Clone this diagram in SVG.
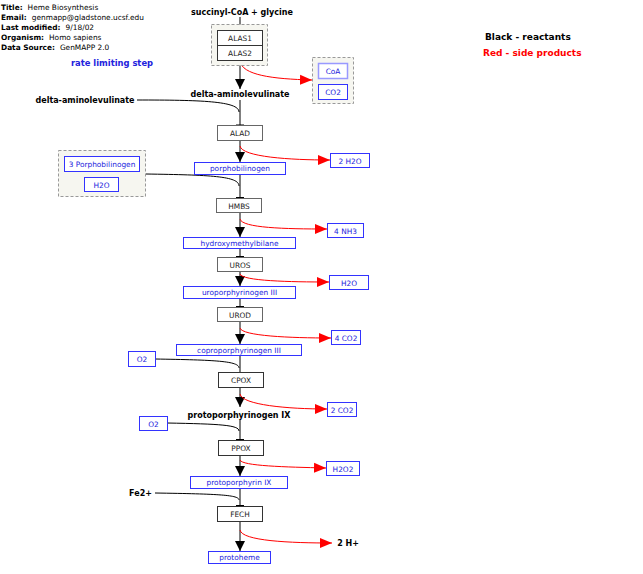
<svg xmlns="http://www.w3.org/2000/svg" width="643" height="574" viewBox="0 0 643 574">
<defs>
<marker id="ab" markerUnits="userSpaceOnUse" markerWidth="10" markerHeight="12" viewBox="0 0 10 12" refX="10" refY="6" orient="auto"><path d="M0,1 L10,6 L0,11 Z" fill="#000"/></marker>
<marker id="ar" markerUnits="userSpaceOnUse" markerWidth="12" markerHeight="12" viewBox="0 0 12 12" refX="12" refY="6" orient="auto"><path d="M0,1 L12,6 L0,11 Z" fill="#f00"/></marker>
<style>
text{font-family:"DejaVu Sans","Liberation Sans",sans-serif;}
.h{font-size:7.4px;fill:#000;}
.hb{font-weight:bold;}
.bl{font-size:8px;font-weight:bold;fill:#000;text-anchor:middle;}
.grp{fill:#f6f6f0;stroke:#999;stroke-dasharray:3,2;stroke-width:1;}
.enz{fill:#fff;stroke:#333;stroke-width:1;}
.enz2{fill:#fff;stroke:#666;stroke-width:1;}
.met{fill:#fff;stroke:#33f;stroke-width:1;}
.met2{fill:#fff;stroke:#99f;stroke-width:1.5;}
.et{font-size:7.4px;fill:#222;text-anchor:middle;}
.mt{font-size:7.4px;fill:#22d;text-anchor:middle;}
.k{fill:none;stroke:#000;stroke-width:1;}
.r{fill:none;stroke:#f00;stroke-width:1;}
</style>
</defs>

<g id="header">
<text class="h" x="1" y="10"><tspan class="hb">Title:</tspan><tspan dx="5">Heme Biosynthesis</tspan></text>
<text class="h" x="1" y="20"><tspan class="hb">Email:</tspan><tspan dx="5">genmapp@gladstone.ucsf.edu</tspan></text>
<text class="h" x="1" y="30"><tspan class="hb">Last modified:</tspan><tspan dx="5">9/18/02</tspan></text>
<text class="h" x="1" y="40"><tspan class="hb">Organism:</tspan><tspan dx="5">Homo sapiens</tspan></text>
<text class="h" x="1" y="50"><tspan class="hb">Data Source:</tspan><tspan dx="5">GenMAPP 2.0</tspan></text>
</g>
<g id="rate-limiting"><text x="112" y="66" style="font-size:8.4px;font-weight:bold;fill:#22d;text-anchor:middle">rate limiting step</text></g>
<g id="legend">
<text x="485" y="40" style="font-size:9px;font-weight:bold;fill:#000">Black - reactants</text>
<text x="483" y="56" style="font-size:9px;font-weight:bold;fill:#f00">Red - side products</text>
</g>

<g id="connectors">
<path class="k" d="M240,17 V31"/>
<path class="k" d="M240,60 V89" marker-end="url(#ab)"/>
<path class="r" d="M240,61 C242,75 272,79 312,80" marker-end="url(#ar)"/>
<path class="k" d="M240,100 V125 M236,125 H244"/>
<path class="k" d="M137,100 C200,100 239,101 239,112"/>
<path class="k" d="M240,140 V162" marker-end="url(#ab)"/>
<path class="r" d="M240,146 C242,157 290,160 330,160" marker-end="url(#ar)"/>
<path class="k" d="M240,174 V198 M236,197.5 H244"/>
<path class="k" d="M146,174 C210,175 239,176 239,186"/>
<path class="k" d="M240,213 V237" marker-end="url(#ab)"/>
<path class="r" d="M240,219 C242,228 285,229 327,229" marker-end="url(#ar)"/>
<path class="k" d="M240,248 V257 M236,256.5 H244"/>
<path class="k" d="M240,271 V286" marker-end="url(#ab)"/>
<path class="r" d="M240,274 C242,281 290,282 329,282" marker-end="url(#ar)"/>
<path class="k" d="M240,298 V307 M236,306.5 H244"/>
<path class="k" d="M240,322 V344" marker-end="url(#ab)"/>
<path class="r" d="M240,328 C242,336 290,338 331,338" marker-end="url(#ar)"/>
<path class="k" d="M240,356 V373 M236,372.5 H244"/>
<path class="k" d="M155,359 C215,360 239,361 239,368"/>
<path class="k" d="M240,387 V407" marker-end="url(#ab)"/>
<path class="r" d="M240,394 C242,405 288,409 327,409" marker-end="url(#ar)"/>
<path class="k" d="M240,420 V440 M236,439.5 H244"/>
<path class="k" d="M167,423 C220,424 239,425 239,431"/>
<path class="k" d="M240,455 V476" marker-end="url(#ab)"/>
<path class="r" d="M240,460 C242,466 285,467 326,468" marker-end="url(#ar)"/>
<path class="k" d="M240,488 V506 M236,505.5 H244"/>
<path class="k" d="M155,493 C220,494 239,495 239,500"/>
<path class="k" d="M240,522 V551" marker-end="url(#ab)"/>
<path class="r" d="M240,530 C242,541 290,543 332,543" marker-end="url(#ar)"/>
</g>

<g id="succinyl"><text class="bl" x="242" y="15">succinyl-CoA + glycine</text></g>
<g id="alas-group">
<rect class="grp" x="211.5" y="24.5" width="56" height="41"/>
<rect class="enz" x="217.5" y="30.5" width="45" height="15"/>
<text class="et" x="240" y="41">ALAS1</text>
<rect class="enz" x="217.5" y="45.5" width="45" height="15"/>
<text class="et" x="240" y="56">ALAS2</text>
</g>
<g id="coa-group">
<rect class="grp" x="312.5" y="57.5" width="41" height="46"/>
<rect class="met2" x="318.5" y="63.5" width="29" height="15"/>
<text class="mt" x="333" y="74">CoA</text>
<rect class="met" x="318.5" y="84.5" width="29" height="15"/>
<text class="mt" x="333" y="95">CO2</text>
</g>
<g id="ala"><text class="bl" x="240" y="97">delta-aminolevulinate</text></g>
<g id="ala-left"><text class="bl" x="85" y="103">delta-aminolevulinate</text></g>
<g id="alad"><rect class="enz2" x="217.5" y="125.5" width="45" height="15"/><text class="et" x="240" y="136">ALAD</text></g>
<g id="h2o-1"><rect class="met" x="330.5" y="153.5" width="39" height="14"/><text class="mt" x="350" y="163.5">2 H2O</text></g>
<g id="pbg"><rect class="met" x="194.5" y="162.5" width="91" height="12"/><text class="mt" x="240" y="171">porphobilinogen</text></g>
<g id="pbg-group">
<rect class="grp" x="58.5" y="150.5" width="87" height="46"/>
<rect class="met" x="64.5" y="156.5" width="75" height="15"/>
<text class="mt" x="102" y="167">3 Porphobilinogen</text>
<rect class="met" x="84.5" y="177.5" width="34" height="14"/>
<text class="mt" x="101.5" y="187.5">H2O</text>
</g>
<g id="hmbs"><rect class="enz2" x="216.5" y="198.5" width="45" height="14"/><text class="et" x="239" y="208.5">HMBS</text></g>
<g id="nh3"><rect class="met" x="327.5" y="223.5" width="36" height="14"/><text class="mt" x="345.5" y="233.5">4 NH3</text></g>
<g id="hmb"><rect class="met" x="183.5" y="237.5" width="112" height="11"/><text class="mt" x="239.5" y="245.5">hydroxymethylbilane</text></g>
<g id="uros"><rect class="enz2" x="217.5" y="257.5" width="45" height="14"/><text class="et" x="240" y="267.5">UROS</text></g>
<g id="h2o-2"><rect class="met" x="329.5" y="275.5" width="39" height="14"/><text class="mt" x="349" y="285.5">H2O</text></g>
<g id="uro3"><rect class="met" x="183.5" y="286.5" width="112" height="12"/><text class="mt" x="239.5" y="295">uroporphyrinogen III</text></g>
<g id="urod"><rect class="enz2" x="217.5" y="307.5" width="45" height="14"/><text class="et" x="240" y="317.5">UROD</text></g>
<g id="co2-4"><rect class="met" x="331.5" y="330.5" width="29" height="14"/><text class="mt" x="346" y="340.5">4 CO2</text></g>
<g id="copro3"><rect class="met" x="176.5" y="344.5" width="125" height="11"/><text class="mt" x="239" y="352.5">coproporphyrinogen III</text></g>
<g id="o2-1"><rect class="met" x="128.5" y="351.5" width="27" height="15"/><text class="mt" x="142" y="362">O2</text></g>
<g id="cpox"><rect class="enz" x="218.5" y="372.5" width="45" height="15"/><text class="et" x="241" y="383">CPOX</text></g>
<g id="co2-2"><rect class="met" x="327.5" y="402.5" width="29" height="14"/><text class="mt" x="342" y="412.5">2 CO2</text></g>
<g id="protogen"><text class="bl" x="239" y="418">protoporphyrinogen IX</text></g>
<g id="o2-2"><rect class="met" x="139.5" y="416.5" width="28" height="14"/><text class="mt" x="153.5" y="426.5">O2</text></g>
<g id="ppox"><rect class="enz" x="218.5" y="440.5" width="45" height="15"/><text class="et" x="241" y="451">PPOX</text></g>
<g id="h2o2"><rect class="met" x="326.5" y="461.5" width="33" height="14"/><text class="mt" x="343" y="471.5">H2O2</text></g>
<g id="proto9"><rect class="met" x="190.5" y="476.5" width="97" height="12"/><text class="mt" x="239" y="485">protoporphyrin IX</text></g>
<g id="fe2"><text class="bl" x="140.5" y="496">Fe2+</text></g>
<g id="fech"><rect class="enz" x="217.5" y="506.5" width="45" height="15"/><text class="et" x="240" y="517">FECH</text></g>
<g id="hplus"><text class="bl" x="348" y="546">2 H+</text></g>
<g id="protoheme"><rect class="met" x="208.5" y="551.5" width="62" height="12"/><text class="mt" x="239.5" y="560">protoheme</text></g>
</svg>
